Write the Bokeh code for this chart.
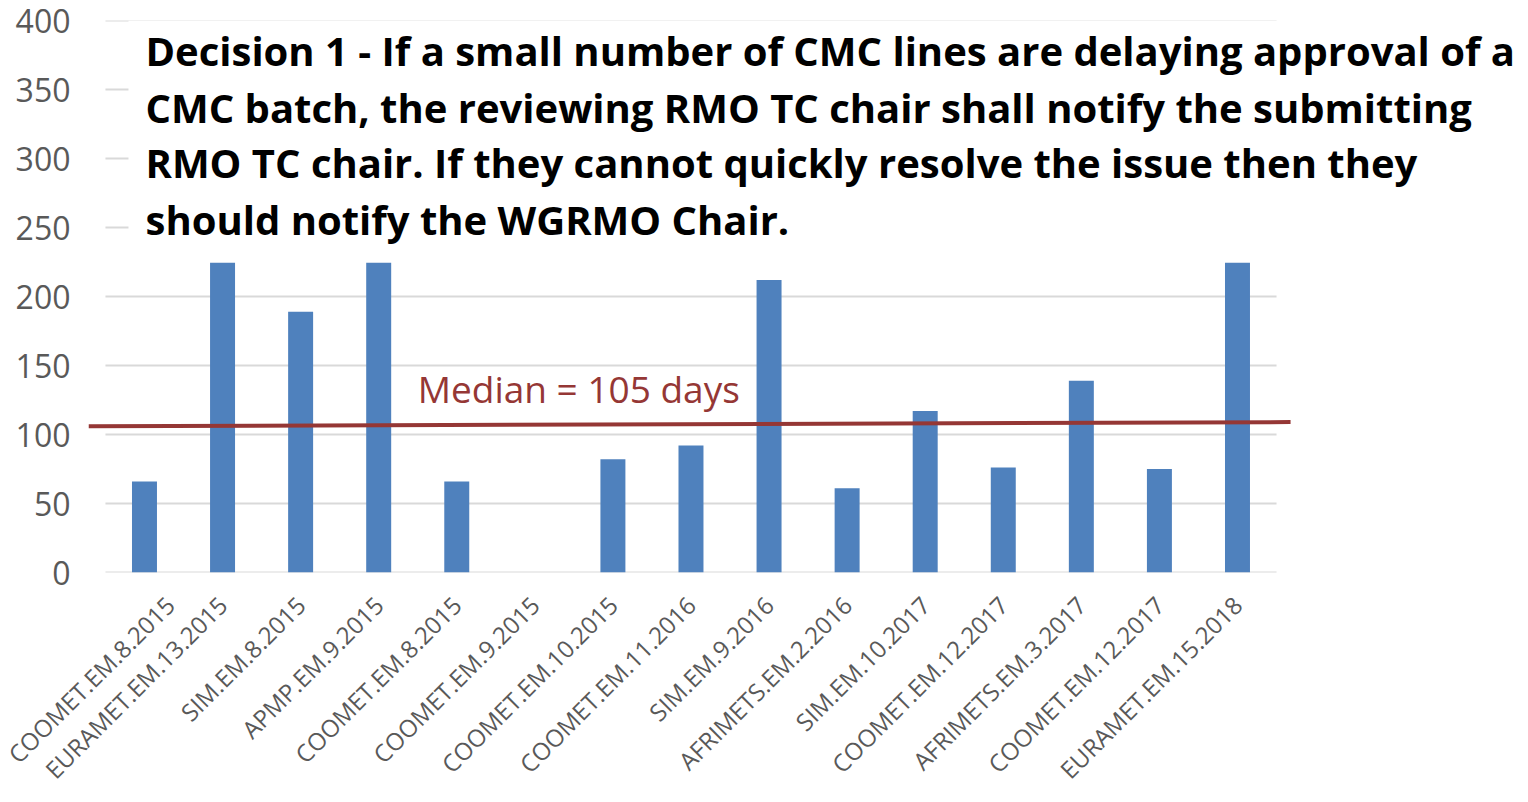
import math
from bokeh.plotting import figure
from bokeh.models import Range1d, FixedTicker, BoxAnnotation, Label, ColumnDataSource
from bokeh.embed import file_html
from bokeh.resources import INLINE

# ---- data ----
categories = ["COOMET.EM.8.2015", "EURAMET.EM.13.2015", "SIM.EM.8.2015", "APMP.EM.9.2015",
              "COOMET.EM.8.2015", "COOMET.EM.9.2015", "COOMET.EM.10.2015", "COOMET.EM.11.2016",
              "SIM.EM.9.2016", "AFRIMETS.EM.2.2016", "SIM.EM.10.2017", "COOMET.EM.12.2017",
              "AFRIMETS.EM.3.2017", "COOMET.EM.12.2017", "EURAMET.EM.15.2018"]
days = [66, 290, 189, 300, 66, 0, 82, 92, 212, 61, 117, 76, 139, 75, 280]
median_line = [106, 109]          # drawn median marker (left end, right end)
median_text = "Median = 105 days"
y_ticks = [0, 50, 100, 150, 200, 250, 300, 350, 400]
title_lines = ["Decision 1 - If a small number of CMC lines are delaying approval of a",
               "CMC batch, the reviewing RMO TC chair shall notify the submitting",
               "RMO TC chair. If they cannot quickly resolve the issue then they",
               "should notify the WGRMO Chair."]

FONT = "Open Sans"
GREY = "#595959"
GRID = "#d9d9d9"
BAR = "#4f81bd"
RED = "#953735"

xs = list(range(len(categories)))
x0, x1 = -0.717, 17.561
line_end = 14.68

p = figure(width=1515, height=800, output_backend="svg", toolbar_location=None,
           x_range=Range1d(x0, x1), y_range=Range1d(0, 400),
           min_border_left=88, min_border_right=0, min_border_top=20, min_border_bottom=226)
p.outline_line_color = None
p.xgrid.visible = False
p.ygrid.visible = False

# gridlines
p.segment(x0=[-0.5] * len(y_ticks), x1=[14.5] * len(y_ticks), y0=y_ticks, y1=y_ticks,
          line_color=GRID, line_width=2)

# bars
src = ColumnDataSource(dict(x=xs, top=days))
p.vbar(x="x", top="top", width=0.32, bottom=0, source=src, fill_color=BAR, line_color=None)

# median line
p.segment(x0=[x0], x1=[line_end], y0=[median_line[0]], y1=[median_line[1]], line_color=RED, line_width=4)
p.add_layout(Label(x=3.5, y=133, text=median_text, text_font=FONT, text_font_size="37px",
                   text_color=RED, text_baseline="middle"))

# title box (covers upper plot area)
p.add_layout(BoxAnnotation(left=-0.205, bottom=224.5, fill_color="white", fill_alpha=1.0,
                           line_color=None, level="overlay"))
base_y = [378.3, 337.2, 296.8, 255.6]
for t, yy in zip(title_lines, base_y):
    p.add_layout(Label(x=0.013, y=yy, text=t, text_font=FONT, text_font_style="bold",
                       text_font_size="40px", text_color="black", text_baseline="middle",
                       level="overlay"))

# axes
p.yaxis.ticker = FixedTicker(ticks=y_ticks)
p.yaxis.axis_line_color = None
p.yaxis.major_tick_line_color = None
p.yaxis.minor_tick_line_color = None
p.yaxis.major_label_text_font = FONT
p.yaxis.major_label_text_font_size = "32px"
p.yaxis.major_label_text_color = GREY
p.yaxis.major_label_standoff = 12

p.xaxis.ticker = FixedTicker(ticks=xs)
p.xaxis.major_label_overrides = {i: c for i, c in enumerate(categories)}
p.xaxis.major_label_orientation = math.pi / 4
p.xaxis.axis_line_color = None
p.xaxis.major_tick_line_color = None
p.xaxis.minor_tick_line_color = None
p.xaxis.major_label_text_font = FONT
p.xaxis.major_label_text_font_size = "24px"
p.xaxis.major_label_text_color = GREY
p.xaxis.major_label_standoff = 22

open("out.html", "w").write(file_html(p, INLINE))
